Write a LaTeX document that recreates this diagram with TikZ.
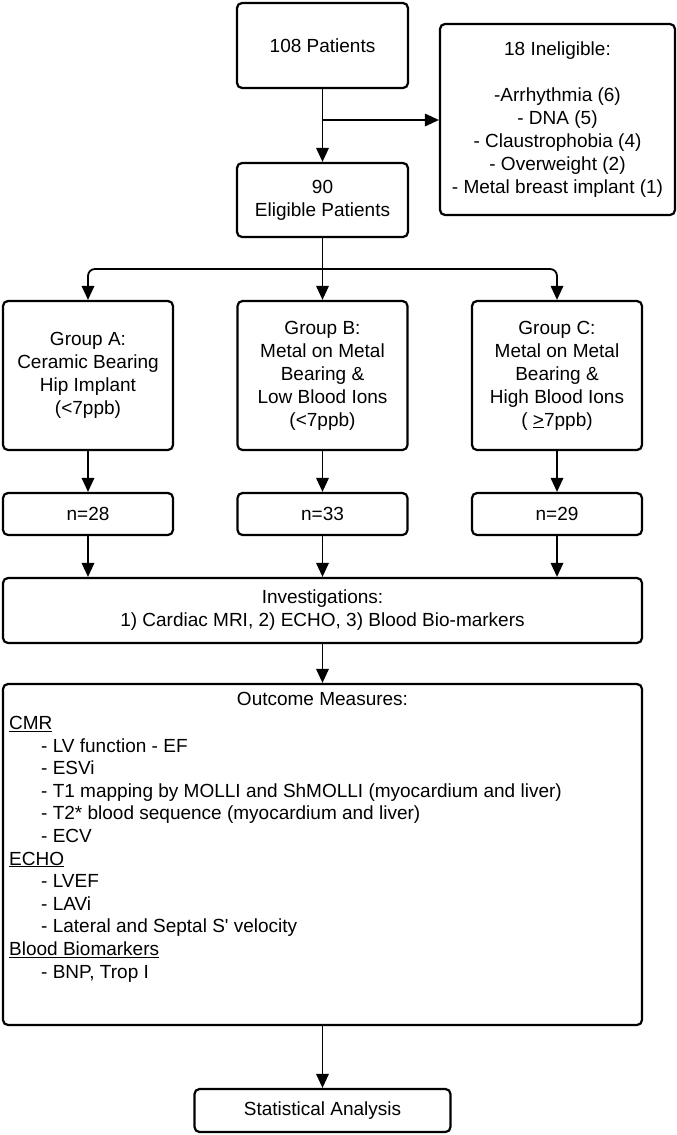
\documentclass[tikz,border=0pt]{standalone}
\usepackage{fontspec}
\setmainfont{Liberation Sans}
\usetikzlibrary{arrows.meta}
\newcommand\oitem[1]{\hspace*{32pt}- #1}
\begin{document}
\begin{tikzpicture}[x=1pt,y=-1pt,
  txt/.style={font=\fontsize{19}{23}\selectfont},
  fbox/.style={draw, line width=2.2pt, rounded corners=5pt, align=center, txt, inner sep=2pt},
  conn/.style={line width=1.8pt},
  arr/.style={conn, -{Triangle[length=14pt,width=12.5pt]}}]
\useasboundingbox (0,0) rectangle (677,1135);
% boxes
\node[fbox, minimum width=171pt, minimum height=85pt] (p108) at (322.5,45.5) {108 Patients};
\node[fbox, minimum width=235pt, minimum height=191pt] (inel) at (557.5,119.5)
  {18 Ineligible:\\ \mbox{}\\ -Arrhythmia (6)\\ - DNA (5)\\ - Claustrophobia (4)\\ - Overweight (2)\\ - Metal breast implant (1)};
\node[fbox, minimum width=171pt, minimum height=74pt] (p90) at (322.5,200) {90\\ Eligible Patients};
\node[fbox, minimum width=170pt, minimum height=149pt] (gA) at (88,375.5) {Group A:\\ Ceramic Bearing\\ Hip Implant\\ (<7ppb)};
\node[fbox, minimum width=170pt, minimum height=149pt] (gB) at (322.5,375.5) {Group B:\\ Metal on Metal\\ Bearing \&\\ Low Blood Ions\\ (<7ppb)};
\node[fbox, minimum width=170pt, minimum height=149pt] (gC) at (557,375.5) {Group C:\\ Metal on Metal\\ Bearing \&\\ High Blood Ions\\ ( \underline{>}7ppb)};
\node[fbox, minimum width=170pt, minimum height=42pt] (nA) at (88,514) {n=28};
\node[fbox, minimum width=170pt, minimum height=42pt] (nB) at (322.5,514) {n=33};
\node[fbox, minimum width=170pt, minimum height=42pt] (nC) at (557,514) {n=29};
\node[fbox, minimum width=639pt, minimum height=65pt] (inv) at (322.5,610.5) {Investigations:\\ 1) Cardiac MRI, 2) ECHO, 3) Blood Bio-markers};
\node[fbox, minimum width=639pt, minimum height=341pt] (out) at (322.5,854.5) {};
\node[txt, inner sep=0pt] (outhead) at (322.5,699) {Outcome Measures:};
\node[txt, font=\fontsize{19}{22.6}\selectfont, align=left, anchor=north west, inner sep=0pt] (outlist) at (9,716)
  {\underline{CMR}\\
   \oitem{LV function - EF}\\
   \oitem{ESVi}\\
   \oitem{T1 mapping by MOLLI and ShMOLLI (myocardium and liver)}\\
   \oitem{T2* blood sequence (myocardium and liver)}\\
   \oitem{ECV}\\
   \underline{ECHO}\\
   \oitem{LVEF}\\
   \oitem{LAVi}\\
   \oitem{Lateral and Septal S\textquotesingle{} velocity}\\
   \underline{Blood Biomarkers}\\
   \oitem{BNP, Trop I}};
\node[fbox, minimum width=256pt, minimum height=43pt] (stat) at (322.5,1110.5) {Statistical Analysis};
% connectors
\coordinate (br) at (322.5,120);
\coordinate (split) at (322.5,269);
\draw[arr] (p108) -- (p90);
\draw[arr] (br) -- (inel.west |- br);
\draw[conn] (p90) -- (split);
\draw[arr, rounded corners=7pt] (split) -| (gA.north);
\draw[arr, rounded corners=7pt] (split) -| (gC.north);
\draw[arr] (split) -- (gB.north);
\draw[arr] (gA) -- (nA);
\draw[arr] (gB) -- (nB);
\draw[arr] (gC) -- (nC);
\draw[arr] (nA) -- (nA |- inv.north);
\draw[arr] (nB) -- (nB |- inv.north);
\draw[arr] (nC) -- (nC |- inv.north);
\draw[arr] (inv) -- (out);
\draw[arr] (out) -- (stat);
\end{tikzpicture}
\end{document}
